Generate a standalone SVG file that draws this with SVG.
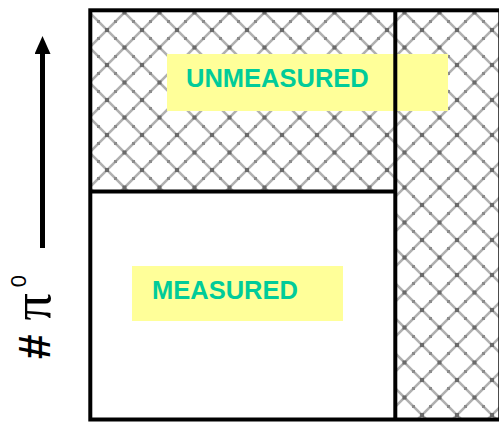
<svg xmlns="http://www.w3.org/2000/svg" width="499" height="429" viewBox="0 0 499 429">
  <style>
    .frame { fill: none; stroke: #000; stroke-width: 4; }
    .note { fill: #FFFF99; }
    .label { font-family: "Liberation Sans", Arial, sans-serif; font-weight: bold; font-size: 25.5px; fill: #00CC99; }
  </style>
  <defs>
    <!-- diagonal cross-hatch, 35px diamonds -->
    <pattern id="hatch" patternUnits="userSpaceOnUse" x="2" y="30" width="35" height="35">
      <rect width="35" height="35" fill="#fff"/>
      <path d="M0,0 L35,35 M35,0 L0,35" stroke="#b0b0b0" stroke-width="2.6"/>
      <g fill="#6a6a6a">
        <rect x="15.5" y="15.5" width="4" height="4"/>
        <rect x="-2" y="-2" width="4" height="4"/>
        <rect x="33" y="-2" width="4" height="4"/>
        <rect x="-2" y="33" width="4" height="4"/>
        <rect x="33" y="33" width="4" height="4"/>
      </g>
      <g fill="#8c8c8c">
        <rect x="7" y="7" width="3" height="3"/>
        <rect x="25" y="7" width="3" height="3"/>
        <rect x="7" y="25" width="3" height="3"/>
        <rect x="25" y="25" width="3" height="3"/>
      </g>
    </pattern>
    <marker id="head" markerUnits="userSpaceOnUse" markerWidth="18" markerHeight="16" refX="0" refY="8" orient="auto" viewBox="0 0 18 16">
      <path d="M0,0 L18,8 L0,16 Z" fill="#000"/>
    </marker>
  </defs>

  <!-- hatched area: upper block and right column -->
  <g id="unmeasured">
    <rect x="90" y="10" width="305" height="181.5" fill="url(#hatch)"/>
    <rect x="395" y="10" width="104" height="409.5" fill="url(#hatch)"/>
    <rect class="note" x="167" y="54" width="281" height="57"/>
    <text class="label" x="186" y="87">UNMEASURED</text>
  </g>

  <g id="measured">
    <rect x="90" y="191.5" width="305" height="228" fill="#fff"/>
    <rect class="note" x="132" y="266" width="211" height="55"/>
    <text class="label" x="152" y="298.5">MEASURED</text>
  </g>

  <!-- outline and dividers -->
  <g id="frame">
    <rect class="frame" x="90.3" y="10.3" width="410" height="409.2"/>
    <line x1="395.3" y1="10" x2="395.3" y2="420" stroke="#000" stroke-width="4"/>
    <line x1="90" y1="191.5" x2="395" y2="191.5" stroke="#000" stroke-width="4"/>
  </g>

  <g id="axis-label">
    <text transform="translate(50,359) rotate(-90)" font-family="'Liberation Sans', Arial, sans-serif" font-size="44"><tspan font-weight="bold">#</tspan><tspan font-family="'Liberation Serif', 'Times New Roman', serif" font-size="54" dx="14">π</tspan><tspan font-size="22" dx="6" dy="-24">0</tspan></text>
  </g>

  <g id="connectors">
    <line x1="42.5" y1="248" x2="42.5" y2="54" stroke="#000" stroke-width="5" marker-end="url(#head)"/>
  </g>
</svg>
